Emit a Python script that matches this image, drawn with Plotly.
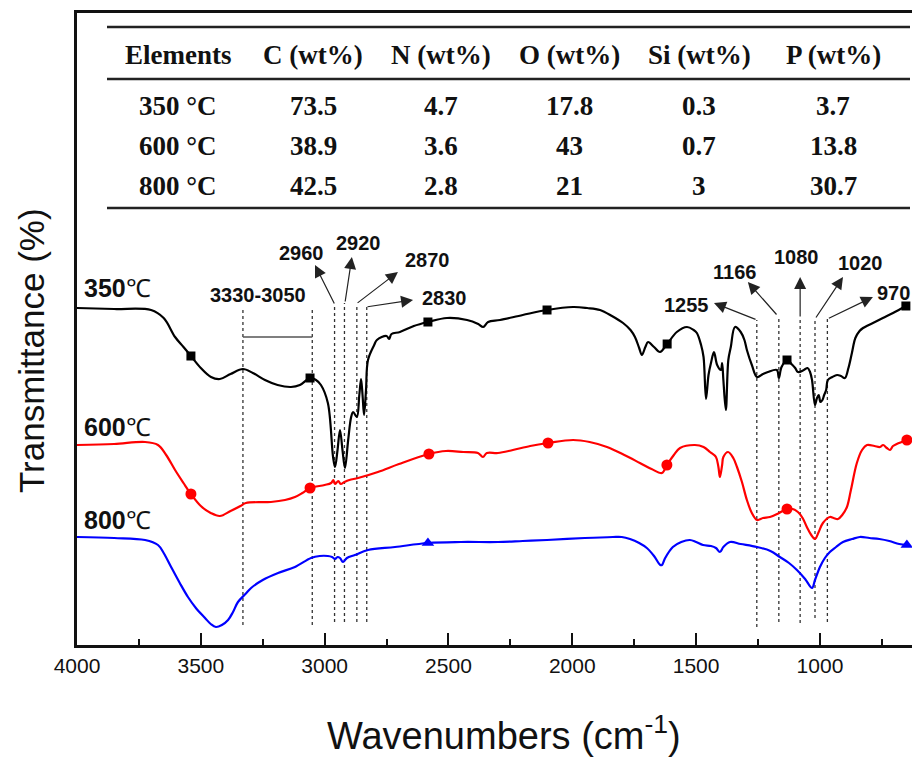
import plotly.graph_objects as go

# ---------------- data ----------------
# wavenumbers (cm-1) and transmittance (arbitrary units, offset curves)
wn_350 = [4000, 3850, 3701, 3650, 3604, 3570, 3540, 3500, 3459, 3423, 3380, 3330, 3290, 3241, 3190, 3136, 3100, 3059,
          3035, 3015, 2987, 2966, 2958, 2948, 2938, 2928, 2918, 2905, 2893, 2885, 2870, 2860, 2853, 2847, 2841, 2833,
          2825, 2800, 2789, 2750, 2740, 2730, 2696, 2640, 2583, 2506, 2425, 2380, 2360, 2340, 2292, 2200, 2102, 1997,
          1940, 1888, 1840, 1795, 1765, 1747, 1730, 1719, 1705, 1694, 1670, 1646, 1617, 1578, 1537, 1510, 1497, 1480,
          1470, 1460, 1450, 1440, 1428, 1415, 1400, 1395, 1390, 1380, 1370, 1360, 1343, 1320, 1305, 1295, 1275, 1254,
          1230, 1210, 1174, 1166, 1155, 1133, 1115, 1100, 1089, 1065, 1050, 1040, 1032, 1020, 1012, 1005, 998, 990,
          983, 975, 968, 950, 931, 915, 899, 885, 871, 857, 840, 826, 786, 746, 705, 653]
t_350 = [337, 336, 335, 327, 308, 298, 289, 277, 268, 266, 271, 276, 272, 265, 260, 258, 260, 267,
         265, 260, 242, 188, 178, 195, 215, 195, 177, 205, 228, 233, 228, 250, 266, 250, 230, 255,
         285, 300, 305, 309, 306, 311, 313, 319, 323, 327, 325, 321, 318, 323, 325, 330, 335, 338,
         337, 335, 329, 322, 315, 308, 297, 290, 298, 303, 298, 293, 301, 313, 318, 315, 312, 300,
         288, 246, 270, 282, 293, 280, 275, 282, 265, 235, 285, 298, 318, 313, 305, 295, 280, 268,
         271, 273, 275, 267, 278, 285, 281, 277, 273, 275, 277, 273, 265, 240, 247, 250, 243, 245,
         250, 255, 265, 268, 270, 269, 267, 277, 292, 307, 314, 317, 322, 327, 332, 339]

wn_600 = [4000, 3850, 3725, 3673, 3640, 3604, 3570, 3540, 3500, 3460, 3423, 3380, 3340, 3318, 3217, 3160, 3120, 3090,
          3059, 3000, 2974, 2965, 2958, 2945, 2935, 2920, 2900, 2865, 2785, 2700, 2579, 2510, 2440, 2381, 2361, 2345,
          2300, 2240, 2170, 2098, 1997, 1930, 1860, 1790, 1727, 1680, 1638, 1618, 1590, 1565, 1505, 1470, 1444, 1420,
          1410, 1404, 1395, 1390, 1371, 1350, 1335, 1315, 1295, 1275, 1254, 1230, 1202, 1165, 1133, 1110, 1089, 1070,
          1053, 1035, 1020, 1005, 988, 960, 945, 927, 910, 891, 875, 851, 830, 810, 780, 758, 745, 730, 717, 705, 690,
          649]
t_600 = [200, 201, 203, 200, 190, 175, 162, 151, 139, 132, 129, 134, 139, 142, 143, 145, 148, 152,
         157, 160, 162, 165, 161, 164, 161, 163, 165, 167, 173, 181, 191, 194, 193, 192, 188, 192,
         192, 195, 199, 202, 205, 203, 198, 190, 182, 176, 172, 180, 190, 197, 200, 198, 193, 188,
         178, 168, 180, 188, 193, 187, 178, 163, 145, 132, 125, 127, 128, 132, 136, 136, 133, 127,
         118, 110, 106, 113, 122, 128, 127, 126, 130, 138, 155, 182, 195, 200, 199, 198, 200, 197, 195, 199, 201,
         205]

wn_800 = [4000, 3850, 3725, 3673, 3650, 3620, 3585, 3552, 3520, 3483, 3460, 3439, 3415, 3390, 3370, 3350, 3320, 3297,
          3250, 3188, 3120, 3055, 3020, 2987, 2970, 2958, 2948, 2938, 2926, 2910, 2878, 2825, 2716, 2583, 2450, 2300,
          2200, 2102, 1950, 1836, 1800, 1767, 1730, 1699, 1670, 1645, 1638, 1625, 1594, 1560, 1525, 1500, 1472, 1440,
          1420, 1404, 1390, 1363, 1320, 1254, 1200, 1162, 1125, 1093, 1060, 1032, 1020, 1000, 980, 960, 935, 907, 870,
          839, 800, 760, 720, 680, 649]
t_800 = [108, 107, 105, 100, 92, 78, 62, 48, 37, 27, 21, 18, 20, 25, 33, 43, 51, 57,
         65, 72, 78, 87, 89, 89, 88, 86, 88, 87, 83, 87, 90, 95, 98, 102, 103, 103,
         104, 105, 107, 108, 108, 106, 102, 97, 89, 80, 80, 87, 98, 103, 105, 103, 100, 99,
         97, 93, 98, 103, 101, 98, 94, 88, 82, 75, 66, 57, 65, 78, 87, 93, 98, 103, 106,
         108, 107, 106, 104, 101, 100]

# symbol positions on each curve
mk_wn_350 = [3540, 3059, 2583, 2102, 1617, 1133, 653]
mk_t_350 = [289, 267, 323, 335, 301, 285, 339]
mk_wn_600 = [3540, 3059, 2579, 2098, 1618, 1133, 649]
mk_t_600 = [151, 157, 191, 202, 180, 136, 205]
mk_wn_800 = [2583, 649]
mk_t_800 = [102, 100]

series_names = ["350", "600", "800"]
series_colors = ["#000000", "#ff0000", "#0000ff"]

# band assignments (cm-1)
band_lines = [3330, 3050, 2960, 2920, 2870, 2830, 1255, 1166, 1080, 1020, 970]
arrow_labels = ["2960", "2920", "2870", "2830", "1255", "1166", "1080", "1020", "970"]
range_label = "3330-3050"

# elemental composition table
table_header = ["Elements", "C (wt%)", "N (wt%)", "O (wt%)", "Si (wt%)", "P (wt%)"]
table_rows = [
    ["350 °C", "73.5", "4.7", "17.8", "0.3", "3.7"],
    ["600 °C", "38.9", "3.6", "43", "0.7", "13.8"],
    ["800 °C", "42.5", "2.8", "21", "3", "30.7"],
]

x_ticks = [4000, 3500, 3000, 2500, 2000, 1500, 1000]

# ---------------- figure ----------------
fig = go.Figure()

# dashed band lines (drawn first, under the curves)
band_top = {3330: 338, 3050: 338, 2960: 340, 2920: 342, 2870: 341, 2830: 338,
            1255: 325, 1166: 329, 1080: 327, 1020: 326, 970: 326}
band_bot = {3330: 20, 3050: 20, 2960: 23, 2920: 23, 2870: 23, 2830: 23,
            1255: 18, 1166: 23, 1080: 22, 1020: 27, 970: 23}
for b in band_lines:
    fig.add_trace(go.Scatter(x=[b, b], y=[band_bot[b], band_top[b]], mode="lines",
                             line=dict(color="#333333", width=1.3, dash="3px,3px"),
                             showlegend=False, hoverinfo="skip"))
# bracket for 3330-3050
fig.add_trace(go.Scatter(x=[3330, 3050], y=[308, 308], mode="lines",
                         line=dict(color="#555555", width=1.5), showlegend=False, hoverinfo="skip"))

curves = [(wn_350, t_350), (wn_600, t_600), (wn_800, t_800)]
marks = [(mk_wn_350, mk_t_350, "square", 9), (mk_wn_600, mk_t_600, "circle", 11),
         (mk_wn_800, mk_t_800, "triangle-up", 11)]
for (wx, wy), (mx, my, sym, sz), col, nm in zip(curves, marks, series_colors, series_names):
    fig.add_trace(go.Scatter(x=wx, y=wy, mode="lines", line=dict(color=col, width=2.2),
                             line_shape="spline", name=nm, showlegend=False))
    fig.add_trace(go.Scatter(x=mx, y=my, mode="markers", marker=dict(color=col, symbol=sym, size=sz),
                             showlegend=False, hoverinfo="skip"))

SANS = "Arial, Liberation Sans, sans-serif"
annotations = []
# arrows: (tail_x, tail_y, tip_x, tip_y, label_x, label_y)
arrow_geom = {
    "2960": (2958, 340, 3039, 380, 3095, 392),
    "2920": (2918, 342, 2890, 388, 2865, 402),
    "2870": (2873, 341, 2704, 373, 2585, 385),
    "2830": (2833, 338, 2643, 345, 2518, 347),
    "1255": (1254, 325, 1428, 342, 1538, 340),
    "1166": (1170, 329, 1291, 363, 1347, 373),
    "1080": (1080, 327, 1080, 368, 1095, 388),
    "1020": (1020, 326, 907, 368, 836, 382),
    "970": (970, 326, 786, 348, 705, 352),
}
for lab in arrow_labels:
    tx, ty, hx, hy, lx, ly = arrow_geom[lab]
    annotations.append(dict(x=hx, y=hy, ax=tx, ay=ty, xref="x", yref="y", axref="x", ayref="y",
                            showarrow=True, arrowhead=2, arrowsize=2.0, arrowwidth=1.2,
                            arrowcolor="#222222", text=""))
    annotations.append(dict(x=lx, y=ly, xref="x", yref="y", text=f"<b>{lab}</b>", showarrow=False,
                            xanchor="center", font=dict(family=SANS, size=20, color="#111111")))
annotations.append(dict(x=3269, y=350, xref="x", yref="y", text=f"<b>{range_label}</b>", showarrow=False,
                        xanchor="center", font=dict(family=SANS, size=20, color="#111111")))

# series labels
for nm, ty in zip(series_names, [357, 218, 125]):
    annotations.append(dict(x=3978, y=ty, xref="x", yref="y", xanchor="left",
                            text=f"<b>{nm}</b>℃", showarrow=False,
                            font=dict(family=SANS, size=25, color="#111111")))

# table (page pixel positions -> paper coordinates of the plot area)
def px2paper(px):
    return (px - 77) / 843.0
col_px = [178, 313, 441, 569, 699, 833]
row_t = [590, 539, 499, 459]
for r, row in enumerate([table_header] + table_rows):
    for c, cell in enumerate(row):
        annotations.append(dict(x=px2paper(col_px[c]), y=row_t[r], xref="paper", yref="y",
                                xanchor="center", yanchor="middle",
                                text=f"<b>{cell}</b>", showarrow=False,
                                font=dict(family="Liberation Serif, Times New Roman, serif", size=27,
                                          color="#111111")))
shapes = []
for ty in [618, 566, 437]:
    shapes.append(dict(type="line", xref="paper", yref="y", x0=px2paper(107), x1=px2paper(910),
                       y0=ty, y1=ty, line=dict(color="#222222", width=2.5)))

# axis titles
annotations.append(dict(x=px2paper(504), y=(645 - 733) / 632.0, xref="paper", yref="paper",
                        xanchor="center", yanchor="middle",
                        text="Wavenumbers (cm<sup>-1</sup>)", showarrow=False,
                        font=dict(family=SANS, size=38, color="#111111")))
annotations.append(dict(x=px2paper(31), y=(645 - 351) / 632.0, xref="paper", yref="paper",
                        xanchor="center", yanchor="middle",
                        text="Transmittance (%)", showarrow=False, textangle=-90,
                        font=dict(family=SANS, size=35, color="#111111")))

# the page has an 8px body margin, so the figure is 8px smaller than the window
fig.update_layout(
    width=912, height=752,
    margin=dict(l=69, r=0, t=5, b=115),
    paper_bgcolor="white", plot_bgcolor="white",
    annotations=annotations, shapes=shapes,
    xaxis=dict(range=[4000, 596], tickvals=x_ticks, ticks="inside", ticklen=12, tickwidth=2,
               tickcolor="#111111", showline=True, linecolor="#111111", linewidth=2.5, mirror=True,
               showgrid=False, zeroline=False,
               tickfont=dict(family=SANS, size=21, color="#111111"),
               minor=dict(tickmode="linear", tick0=0, dtick=250, ticks="inside", ticklen=6,
                          tickwidth=2, tickcolor="#111111", showgrid=False)),
    yaxis=dict(range=[0, 632], showticklabels=False, ticks="", showline=True, linecolor="#111111",
               linewidth=2.5, showgrid=False, zeroline=False),
)

fig.write_html("out.html")
